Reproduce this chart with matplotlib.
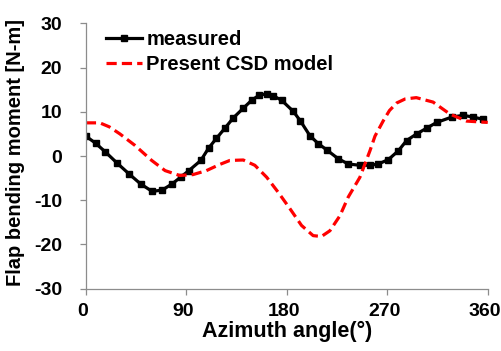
import numpy as np
import matplotlib
matplotlib.use('Agg')
import matplotlib.pyplot as plt
import matplotlib.transforms as mtransforms

plt.rcParams['font.family'] = ['Liberation Sans', 'DejaVu Sans']
plt.rcParams['font.weight'] = 'bold'
plt.rcParams['axes.unicode_minus'] = False

# measured flap bending moment (azimuth in degrees, moment in N-m)
measured_angle = [0, 8.7, 17.6, 28, 38.5, 49, 59.4, 68.4, 77.3, 84.8, 92.3, 103, 110, 117,
                  124.6, 132, 141, 148.5, 155, 162, 168, 175.4, 185.8, 192, 200.7, 208.2,
                  215.7, 226, 235, 245.5, 254.5, 262, 271, 280, 287.3, 296.3, 305.3, 314.3,
                  327.7, 338, 347, 356]
measured_moment = [4.5, 2.9, 0.9, -1.6, -4.0, -6.3, -8.0, -7.7, -6.3, -4.8, -3.3, -1.0, 1.8, 4.0,
                   6.3, 8.6, 10.8, 12.6, 13.7, 14.1, 13.6, 12.6, 10.1, 8.0, 4.6, 2.8,
                   1.4, -0.6, -1.8, -2.1, -2.1, -1.8, -0.8, 1.2, 3.5, 5.0, 6.3, 7.6,
                   8.8, 9.2, 8.8, 8.3]

# present CSD model
model_angle = [0, 12.5, 21, 30.5, 44, 59, 71, 84, 96, 108, 120, 129, 141, 151.4, 162, 172.3,
               182.8, 193.2, 203.6, 211, 218.6, 227.6, 235, 245.5, 250, 254.5, 259, 266.5,
               272, 278.5, 286, 296, 311, 326, 341, 360]
model_moment = [7.5, 7.5, 6.6, 5.0, 2.4, -1.0, -3.3, -4.4, -4.2, -3.3, -1.9, -1.0, -0.9, -2.1,
                -4.8, -8.2, -11.9, -15.7, -18.0, -18.2, -16.9, -13.5, -9.3, -4.8, -1.8, 1.2,
                4.5, 8.0, 10.3, 12.0, 12.9, 13.2, 12.2, 9.5, 7.9, 7.6]

x_ticks = [0, 90, 180, 270, 360]
y_ticks = [-30, -20, -10, 0, 10, 20, 30]

fig = plt.figure(figsize=(5.02, 3.51), dpi=100)
ax = fig.add_axes([0.171, 0.1775, 0.8006, 0.756])

ax.plot(measured_angle, measured_moment, color='black', lw=2.3, marker='s', markersize=3.8,
        label='measured')
ax.plot(model_angle, model_moment, color='red', lw=2.3, dashes=(3.2, 1.6),
        label='Present CSD model')

ax.set_xlim(0, 360)
ax.set_ylim(-30, 30)
ax.set_xticks(x_ticks)
ax.set_yticks(y_ticks)

for side in ['top', 'right']:
    ax.spines[side].set_visible(False)
for side in ['left', 'bottom']:
    ax.spines[side].set_color('#8c8c8c')
    ax.spines[side].set_linewidth(0.9)
ax.tick_params(axis='both', colors='#8c8c8c', length=4, width=0.9, labelsize=14,
               labelcolor='black')
ax.tick_params(axis='x', pad=6)
ax.tick_params(axis='y', pad=13)

# tick labels in the original sit a little left of their ticks
shift = mtransforms.ScaledTranslation(-3 / 100, 0, fig.dpi_scale_trans)
for lbl in ax.get_xticklabels():
    lbl.set_fontweight('bold')
    lbl.set_transform(lbl.get_transform() + shift)
for lbl in ax.get_yticklabels():
    lbl.set_fontweight('bold')

ax.set_xlabel('Azimuth angle(°)', fontsize=15.5, fontweight='bold', labelpad=1)
ax.set_ylabel('Flap bending moment [N-m]', fontsize=14.5, fontweight='bold')
ax.yaxis.set_label_coords(-0.152, 0.515)

ax.legend(loc='upper left', bbox_to_anchor=(0.05, 0.975), frameon=False,
          handlelength=1.8, handletextpad=0.2, labelspacing=0.3, borderpad=0,
          borderaxespad=0, prop={'weight': 'bold', 'size': 14.5})

fig.savefig('out.png', dpi=100)
